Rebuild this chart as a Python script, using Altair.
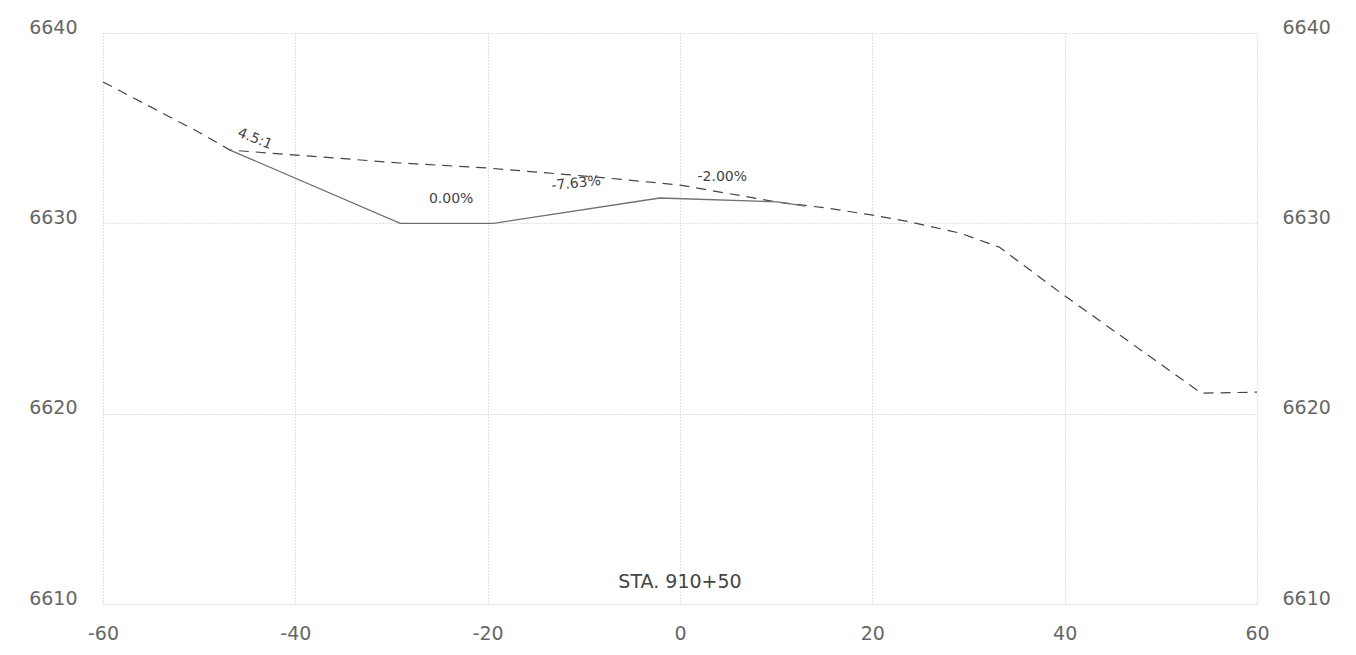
import altair as alt
import pandas as pd

# Existing ground (dashed)
ground_x = [-60, -49.9, -46.8, -29.1, -20.1, -8.6, 0, 10.1, 15.3, 19.9, 23.5, 29.1, 33.2, 39.9, 54.2, 60]
ground_y = [6637.43, 6634.75, 6633.85, 6633.17, 6632.91, 6632.43, 6632.01, 6631.12, 6630.80,
            6630.44, 6630.12, 6629.49, 6628.75, 6626.23, 6621.08, 6621.13]

# Proposed section (solid)
design_x = [-46.8, -29.1, -19.4, -2.1, 10.1, 13.0]
design_y = [6633.85, 6630.0, 6630.0, 6631.33, 6631.13, 6630.9]

# Annotations
note_text = ["4.5:1", "0.00%", "-7.63%", "-2.00%", "STA. 910+50"]
note_x = [-44.2, -23.8, -10.8, 4.4, 0.0]
note_y = [6634.43, 6631.30, 6632.09, 6632.46, 6611.15]
note_angle = [22, 0, 354, 0, 0]
note_size = [14, 14, 14, 14, 19]

x_ticks = [-60, -40, -20, 0, 20, 40, 60]
y_ticks = [6610, 6620, 6630, 6640]

gdf = pd.DataFrame({"x": ground_x, "y": ground_y})
ddf = pd.DataFrame({"x": design_x, "y": design_y})
ndf = pd.DataFrame({"x": note_x, "y": note_y, "t": note_text, "a": note_angle, "s": note_size})

FONT = "DejaVu Sans"
xs = alt.Scale(domain=[-60, 60], nice=False, zero=False)
ys = alt.Scale(domain=[6610, 6640], nice=False, zero=False)

x_axis = alt.Axis(values=x_ticks, title=None, grid=True, gridColor="#c4c4c4", gridDash=[1, 2],
                  domain=False, ticks=False, tickSize=0, labelPadding=20, labelFlush=False,
                  labelFont=FONT, labelFontSize=19, labelColor="#666", labelBaseline="top",
                  labelExpr="'' + datum.value")
y_left = alt.Axis(values=y_ticks, title=None, grid=True, gridColor="#c4c4c4", gridDash=[1, 2],
                  domain=False, ticks=False, tickSize=0, labelPadding=26, labelFlush=False,
                  labelFont=FONT, labelFontSize=19, labelColor="#666", labelBaseline="alphabetic",
                  labelAlign="right", orient="left", format="d")
y_right = alt.Axis(values=y_ticks, title=None, grid=False,
                   domain=False, ticks=False, tickSize=0, labelPadding=25, labelFlush=False,
                   labelFont=FONT, labelFontSize=19, labelColor="#666", labelBaseline="alphabetic",
                   labelAlign="left", orient="right", format="d")

ground = alt.Chart(gdf).mark_line(strokeDash=[10, 7], color="#444", strokeWidth=1.2).encode(
    x=alt.X("x:Q", scale=xs, axis=x_axis),
    y=alt.Y("y:Q", scale=ys, axis=y_left),
)

design = alt.Chart(ddf).mark_line(color="#707070", strokeWidth=1.3).encode(
    x=alt.X("x:Q", scale=xs, axis=x_axis),
    y=alt.Y("y:Q", scale=ys, axis=y_right),
)

notes = alt.Chart(ndf).mark_text(font=FONT, color="#444", align="center", baseline="middle").encode(
    x=alt.X("x:Q", scale=xs, axis=x_axis),
    y=alt.Y("y:Q", scale=ys, axis=None),
    text="t:N",
    angle=alt.Angle("a:Q", scale=None),
    size=alt.Size("s:Q", scale=None, legend=None),
)

chart = alt.layer(ground, design, notes).resolve_scale(y="independent").properties(
    width=1154, height=571,
    autosize=alt.AutoSizeParams(type="none"),
    padding={"left": 95, "top": 25, "right": 80, "bottom": 40},
    background="white",
).configure_view(stroke=None)

chart.save("out.html", embed_options={"renderer": "svg", "actions": False})
